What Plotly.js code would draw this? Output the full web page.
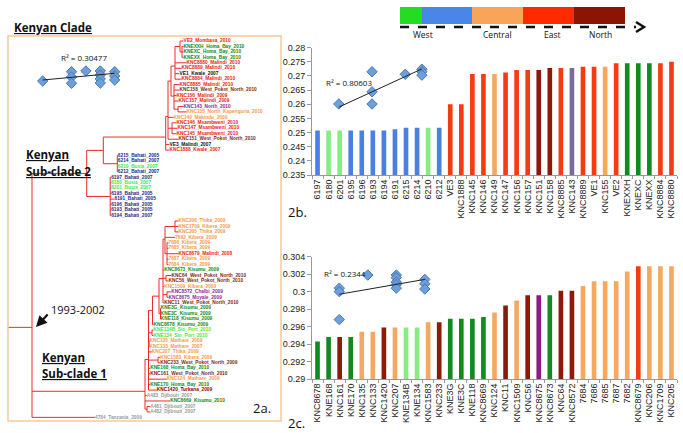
<!DOCTYPE html>
<html>
<head>
<meta charset="utf-8">
<script src="https://cdn.plot.ly/plotly-3.0.1.min.js"></script>
<style>
  html, body { margin: 0; padding: 0; background: #fff; }
  #chart { width: 683px; height: 433px; }
</style>
</head>
<body>
<div id="chart"></div>
<script>
// ---- 2a. phylogenetic tree (branch lengths as drawn) ----
const treeNewick =
  "(" +
    "(" +
      "(" +
        "(" +
          "(" +
            "(" +
              "((VE2_Mombasa_2010:3.5,(KNEXXH_Homa_Bay_2010:1.5,KNEXC_Homa_Bay_2010:1.5,KNEXX_Homa_Bay_2010:1.5):2):5," +
              "KNC8880_Malindi_2010:11.5,KNC8889_Malindi_2010:6.5,VE1_Kwale_2007:4.5,KNC8884_Malindi_2010:6.5):4," +
              "(KNC8885_Malindi_2010:5.5,KNC158_West_Pokot_North_2010:5.5,KNC156_Malindi_2009:2.5,KNC157_Malindi_2009:4.5," +
              "(KNC143_North_2010:5.5,KNC155_North_Kapenguria_2010:8.5):4):3" +
            "):3," +
            "KNC149_Makindu_2009:5.5," +
            "(KNC146_Msambweni_2010:4.5,KNC147_Msambweni_2010:5.5,KNC145_Msambweni_2010:4.5):4," +
            "KNC151_West_Pokot_North_2010:10.5" +
          "):2.3," +
          "VE3_Malindi_2007:3.8,KNC1888_Kwale_2007:3.8" +
        "):62.4," +
        "(6215_Bahati_2005:0.5,6214_Bahati_2007:0.5,6210_Busia_2007:0.5,6212_Bahati_2007:0.5):14" +
      "):16.6," +
      "(6197_Bahati_2007:1,6180_Busia_2007:1,6201_Busia_2007:1,6195_Bahati_2005:1,6191_Bahati_2005:4.3," +
      "6196_Bahati_2005:1,6193_Bahati_2005:1,6194_Bahati_2007:1):23.5" +
    "):54.7," +
    "(" +
      "(" +
        "(" +
          "(" +
            "(" +
              "((KNC206_Thika_2009:3.5,KNC1709_Kibera_2009:3.5,KNC205_Thika_2009:3.5):10," +
              "7682_Kibera_2009:10.2," +
              "(7686_Kibera_2009:1.5,7685_Kibera_2009:1.5,KNC8679_Malindi_2008:11.5,7687_Kibera_2009:1.5,7684_Kibera_2009:1.5):2):2," +
              "KNC8673_Kisumu_2009:1.2," +
              "(KNC64_West_Pokot_North_2010:5.5,KNC56_West_Pokot_North_2010:2.5):3," +
              "KNC1509_Kibera_2009:1.2," +
              "(KNC8572_Chalbi_2009:4.2,KNC8675_Moyale_2009:1.5):4," +
              "KNC11_West_Pokot_North_2010:1.2" +
            "):4," +
            "(KNE3G_Kisumu_2009:0.3,KNE3C_Kisumu_2009:0.3,KNE118_Kisumu_2009:0.3):1.5" +
          "):6.5," +
          "KNC8678_Kisumu_2009:1" +
        "):4," +
        "(KNE134B_Sio_Port_2010:1.5,KNE134_Sio_Port_2010:1.5):3.5," +
        "(KNC135_Mathare_2009:0.5,KNC133_Mathare_2007:0.5):0.5," +
        "KNC207_Thika_2009:3.3," +
        "(KNC1583_Kibera_2009:2.2,KNC233_West_Pokot_North_2009:2.2):9.5," +
        "KNE168_Homa_Bay_2010:1.7,KNC161_West_Pokot_North_2010:1.7,KNC124_Mathare_2009:18.3," +
        "KNE170_Homa_Bay_2010:1.7,KNC1420_Turkana_2009:8.3" +
      "):3.5," +
      "A483_Djibouti_2007:1.8,KNC8669_Kisumu_2010:25.2," +
      "(A481_Djibouti_2007:3.2,A482_Djibouti_2007:3.2):2" +
    "):113," +
    "4784_Tanzania_2009:63" +
  "):24;";

// colour group of each tip, top to bottom
const tipGroups = ("RGGGRRKRRWRRPOORRRWKR" + "BBLBBLLBBBBB" +
                   "OOOOOOROOGWWOPPW" + "GGGGLLOOOOWGWOGD" + "YGYYY").split("");

// tree inset (root-to-tip vs year)
const treeYears = [2005, 2007, 2007, 2007, 2008, 2009, 2009, 2009, 2009, 2010, 2010, 2010];
const treeDist = [0.254, 0.2726, 0.262, 0.2494, 0.274, 0.274, 0.266, 0.258, 0.25, 0.2726, 0.264, 0.256];
const treeTrendX = [2005, 2010];
const treeTrendY = [0.256, 0.2694];

// ---- 2b ----
const bCats = ["6197","6180","6201","6195","6196","6193","6194","6191","6215","6214","6210","6212",
  "VE3","KNC1888","KNC145","KNC146","KNC149","KNC147","KNC156","KNC157","KNC151","KNC158",
  "KNC8885","KNC143","KNC8889","VE1","KNC155","VE2","KNEXXH","KNEXC","KNEXX","KNC8884","KNC8880"];
const bVals = [0.2507,0.2507,0.2507,0.2507,0.2507,0.2507,0.2507,0.2512,0.2517,0.2517,0.2517,0.2517,
  0.26,0.26,0.2707,0.2707,0.2707,0.2712,0.2721,0.2721,0.2721,0.2728,
  0.2728,0.2728,0.2733,0.2733,0.2733,0.2745,0.2745,0.2745,0.2745,0.2745,0.275];
const bGroups = "BLLBBBBBBBLB" + "RRRRORRRWWRQRROR" + "GGGRR";
const bYears = [2005, 2007, 2007, 2007, 2009, 2010, 2010, 2010];
const bDist = [0.2601, 0.2715, 0.2644, 0.2601, 0.2706, 0.2724, 0.2715, 0.2703];
const bTrendX = [2005, 2010];
const bTrendY = [0.259, 0.2725];

// ---- 2c ----
const cCats = ["KNC8678","KNE168","KNC161","KNE170","KNC135","KNC133","KNC1420","KNC207","KNE134B","KNE134",
  "KNC1583","KNC233","KNE3G","KNE3C","KNE118","KNC8669","KNC124","KNC11","KNC1509","KNC56","KNC8675",
  "KNC8673","KNC64","KNC8572","7684","7686","7685","7687","7682","KNC8679","KNC206","KNC1709","KNC205"];
const cVals = [0.2943,0.2948,0.2948,0.2948,0.2954,0.2954,0.2959,0.2959,0.2959,0.2959,
  0.2965,0.2965,0.2969,0.2969,0.2969,0.2971,0.2976,0.2984,0.299,0.2996,0.2996,
  0.2996,0.3001,0.3001,0.30064,0.3012,0.3012,0.3012,0.3023,0.3029,0.3029,0.3029,0.3029];
const cGroups = "GGWGOOWOLLOWGGGGOWOWPGWWOOOOOROOO";
const cYears = [2007, 2007, 2007, 2008, 2009, 2009, 2009, 2009, 2009, 2010, 2010, 2010];
const cDist = [0.3004, 0.3, 0.2968, 0.3019, 0.3019, 0.3016, 0.3011, 0.3008, 0.3004, 0.3014, 0.3009, 0.3003];
const cTrendX = [2007, 2010];
const cTrendY = [0.2997, 0.3014];

// top colour key
const keyRegions = ["", "West", "Central", "East", "North"];
const keyColors = ["#22dd22", "#4a86e8", "#f8a55a", "#ff2a00", "#8b1500"];

// palettes
const treeColors = { R: "#ee2211", G: "#118822", L: "#44e844", B: "#1a2a88", O: "#f59a50",
  W: "#7a2a10", D: "#8b0000", P: "#8a2a9a", K: "#111111", Y: "#9a9a9a" };
const barColors = { B: "#4a7fe4", L: "#86ee80", R: "#f63a12", O: "#f7a860", W: "#8b1a0a",
  G: "#138a1f", Q: "#7a6a9a", P: "#8a1a8a" };

const W = 683, H = 433;
const px = x => x / W;
const py = y => 1 - y / H;

// ---- tree layout ----
function parseNewick(s) {
    let i = 0;
    function node() {
        const n = { children: [], name: "", len: 0 };
        if (s[i] === "(") {
            i++;
            n.children.push(node());
            while (s[i] === ",") { i++; n.children.push(node()); }
            i++;
        }
        let start = i;
        while (i < s.length && !",():;".includes(s[i])) i++;
        n.name = s.slice(start, i);
        if (s[i] === ":") {
            i++; start = i;
            while (i < s.length && !",();".includes(s[i])) i++;
            n.len = parseFloat(s.slice(start, i));
        }
        return n;
    }
    return node();
}

const root = parseNewick(treeNewick);
const leaves = [];
function place(n, parentX) {
    n.px = parentX;
    n.x = parentX + n.len;
    if (!n.children.length) { n.y = leaves.length; leaves.push(n); return; }
    n.children.forEach(c => place(c, n.x));
    n.y = n.children.reduce((a, c) => a + c.y, 0) / n.children.length;
}
place(root, 8);

const lx = [], ly = [];
(function walk(n) {
    lx.push(n.px, n.x, null); ly.push(n.y, n.y, null);
    if (n.children.length) {
        const ys = n.children.map(c => c.y);
        lx.push(n.x, n.x, null); ly.push(Math.min(...ys), Math.max(...ys), null);
        n.children.forEach(walk);
    }
})(root);

const diamond = { symbol: "diamond", size: 8, color: "#6c9fdb", line: { color: "#4b77b0", width: 1 } };

const traces = [
    { x: lx, y: ly, xaxis: "x", yaxis: "y", mode: "lines", line: { color: "#ee2a2a", width: 1 }, hoverinfo: "skip" },
    { x: leaves.map(l => l.x), y: leaves.map(l => l.y), text: leaves.map(l => l.name),
      xaxis: "x", yaxis: "y", mode: "text", textposition: "middle right", cliponaxis: false,
      textfont: { family: "Liberation Sans", size: 4.8, weight: "bold", color: tipGroups.map(g => treeColors[g]) } },
    { x: bCats, y: bVals, type: "bar", xaxis: "x2", yaxis: "y2", marker: { color: bGroups.split("").map(g => barColors[g]) } },
    { x: cCats, y: cVals, type: "bar", xaxis: "x3", yaxis: "y3", marker: { color: cGroups.split("").map(g => barColors[g]) } },
    { x: treeYears, y: treeDist, xaxis: "x4", yaxis: "y4", mode: "markers", marker: diamond },
    { x: treeTrendX, y: treeTrendY, xaxis: "x4", yaxis: "y4", mode: "lines", line: { color: "#222", width: 1 } },
    { x: bYears, y: bDist, xaxis: "x5", yaxis: "y5", mode: "markers", marker: diamond },
    { x: bTrendX, y: bTrendY, xaxis: "x5", yaxis: "y5", mode: "lines", line: { color: "#222", width: 1 } },
    { x: cYears, y: cDist, xaxis: "x6", yaxis: "y6", mode: "markers", marker: diamond },
    { x: cTrendX, y: cTrendY, xaxis: "x6", yaxis: "y6", mode: "lines", line: { color: "#222", width: 1 } }
];

const hidden = { visible: false, fixedrange: true };
const tickFont = { family: "Liberation Sans", size: 9, color: "#222" };
const barX = (anchor) => ({
    domain: [px(312), px(677)], anchor: anchor, type: "category", tickangle: -90, dtick: 1,
    showline: true, linecolor: "#999", linewidth: 1, ticks: "outside", tickson: "boundaries",
    ticklen: 3, tickcolor: "#999", tickfont: tickFont, showgrid: false
});
const barY = (anchor, dom, range, dtick) => ({
    domain: dom, anchor: anchor, range: range, dtick: dtick, tick0: range[0],
    showline: true, linecolor: "#999", linewidth: 1, ticks: "outside", ticklen: 4, tickcolor: "#999",
    tickfont: tickFont, showgrid: false, zeroline: false
});

const ann = (text, x, y, size, extra) => Object.assign({
    text: text, x: px(x), y: py(y), xref: "paper", yref: "paper", showarrow: false,
    xanchor: "left", yanchor: "middle", font: { family: "Open Sans", size: size, color: "#111" }
}, extra || {});
const underline = size => ({ font: { family: "Open Sans", size: size, color: "#111", weight: "bold", lineposition: "under" } });

const annotations = [
    ann("Kenyan Clade", 12, 27, 11.5, underline(11.5)),
    ann("Kenyan", 24, 155, 11.5, underline(11.5)),
    ann("Sub-clade 2", 24, 171, 11.5, underline(11.5)),
    ann("Kenyan", 40, 357, 11.5, underline(11.5)),
    ann("Sub-clade 1", 40, 373, 11.5, underline(11.5)),
    ann("1993-2002", 49, 309, 11),
    { text: "", x: px(36), y: py(327), xref: "paper", yref: "paper", showarrow: true,
      ax: 13, ay: -14, arrowhead: 2, arrowsize: 1, arrowwidth: 2.2, arrowcolor: "#111" },
    ann("2a.", 251, 408, 13),
    ann("2b.", 286, 212, 13),
    ann("2c.", 286, 423, 13),
    ann("R² = 0.30477", 59, 57, 8),
    ann("R² = 0.80603", 324, 82, 8),
    ann("R² = 0.2344", 322, 273, 8)
];

const keyEdges = [400, 422, 472, 523, 574, 625];
const keyLabelX = [0, 423, 497, 552, 600];
const shapes = [
    { type: "rect", xref: "paper", yref: "paper", x0: px(8), x1: px(281), y0: py(421), y1: py(36),
      line: { color: "#f6c89a", width: 1.5 } },
    { type: "line", xref: "paper", yref: "paper", x0: px(400), x1: px(636), y0: py(27), y1: py(27),
      line: { color: "#111", width: 2.5, dash: "dash" } },
    { type: "path", xref: "paper", yref: "paper",
      path: `M${px(636)},${py(22)} L${px(644)},${py(27)} L${px(636)},${py(32)}`,
      line: { color: "#111", width: 2.5 } }
];
keyColors.forEach((c, i) => {
    shapes.push({ type: "rect", xref: "paper", yref: "paper", x0: px(keyEdges[i]), x1: px(keyEdges[i + 1]),
        y0: py(24), y1: py(7), fillcolor: c, line: { width: 0 } });
    if (keyRegions[i]) {
        annotations.push(Object.assign(ann(keyRegions[i], keyLabelX[i], 35, 8.5), { xanchor: "center" }));
    }
});

const layout = {
    width: W, height: H, margin: { l: 0, r: 0, t: 0, b: 0 },
    paper_bgcolor: "#fff", plot_bgcolor: "rgba(0,0,0,0)", showlegend: false,
    bargap: 0.58,
    xaxis: Object.assign({ domain: [0, 1], range: [0, W], anchor: "y" }, hidden),
    yaxis: Object.assign({ domain: [py(421), py(36)], range: [69.67, -0.917], anchor: "x" }, hidden),
    xaxis2: barX("y2"),
    yaxis2: barY("x2", [py(175), py(47.7)], [0.235, 0.28], 0.005),
    xaxis3: barX("y3"),
    yaxis3: barY("x3", [py(379), py(256.7)], [0.29, 0.304], 0.002),
    xaxis4: Object.assign({ domain: [px(13.9), px(129.1)], range: [2003, 2011], anchor: "y4" }, hidden),
    yaxis4: Object.assign({ domain: [py(95), py(60)], range: [0.226, 0.296], anchor: "x4" }, hidden),
    xaxis5: Object.assign({ domain: [px(313.9), px(438.5)], range: [2003.5, 2011], anchor: "y5" }, hidden),
    yaxis5: Object.assign({ domain: [py(175), py(47.7)], range: [0.235, 0.28], anchor: "x5" }, hidden),
    xaxis6: Object.assign({ domain: [px(310.8), px(453.3)], range: [2006, 2011], anchor: "y6" }, hidden),
    yaxis6: Object.assign({ domain: [py(379), py(256.7)], range: [0.29, 0.304], anchor: "x6" }, hidden),
    annotations: annotations,
    shapes: shapes
};

Plotly.newPlot("chart", traces, layout, { displayModeBar: false, staticPlot: true });
</script>
</body>
</html>
